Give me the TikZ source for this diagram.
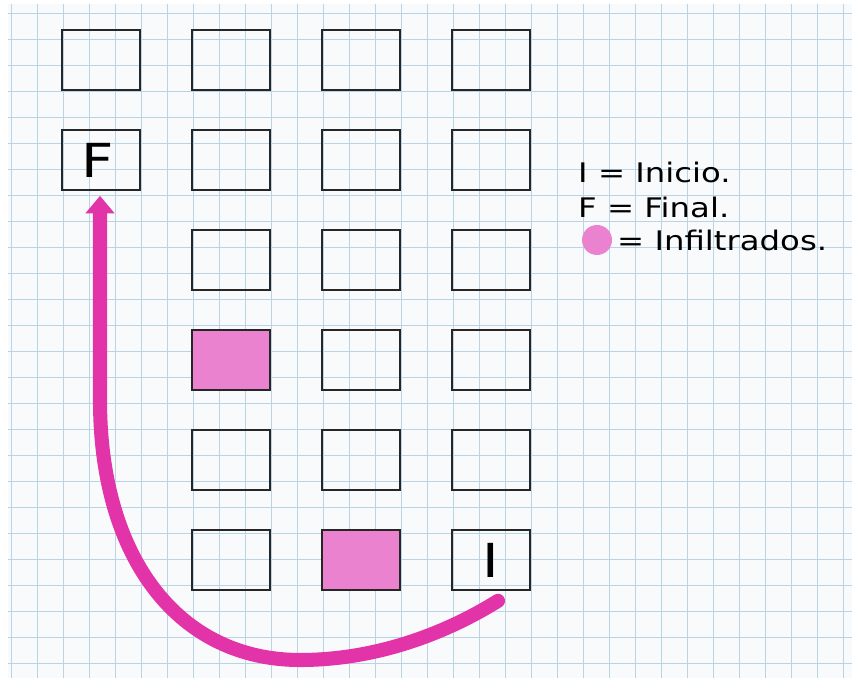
\documentclass[tikz,border=0pt]{standalone}
\usepackage{fontspec}
\newfontfamily\handfont[FakeStretch=1.2]{DejaVu Sans}
\usetikzlibrary{arrows.meta,calc,positioning}
\definecolor{gridblue}{RGB}{186,212,230}
\definecolor{paper}{RGB}{249,250,251}
\definecolor{pinkfill}{RGB}{234,130,208}
\definecolor{pinkline}{RGB}{226,52,168}

\begin{document}
\begin{tikzpicture}[x=0.03cm, y=-0.03cm,
cell/.style={rectangle, draw=black!85, line width=1.4pt, minimum width=2.34cm, minimum height=1.8cm, inner sep=0pt},
infil/.style={cell, fill=pinkfill},
letter/.style={font=\handfont\fontsize{40}{40}\selectfont},
legend/.style={anchor=west, inner sep=0pt, font=\handfont\fontsize{23}{25}\selectfont},
route/.style={-{Triangle[width=24pt,length=15pt]}, line width=12pt, draw=pinkline, line cap=round}
]
\useasboundingbox (0,0) rectangle (858,682);
\fill[paper] (8,4) rectangle (852,678);
% cuadricula
\foreach \gx in {11,37,...,843}
  \draw[gridblue, line width=0.6pt] (\gx,4) -- (\gx,678);
\foreach \gy in {13,39,...,663}
  \draw[gridblue, line width=0.6pt] (8,\gy) -- (852,\gy);
% casillas
\foreach \r in {1,...,6}
  \foreach \c in {2,...,4}
    \node[cell] (b-\r-\c) at ({101+130*(\c-1)},{60+100*(\r-1)}) {};
\node[cell] (b-1-1) at (101,60) {};
\node[cell] (b-2-1) at (101,160) {};
\node[infil] (inf1) at (b-4-2) {};
\node[infil] (inf2) at (b-6-3) {};
\node[letter] (lblF) at ([xshift=-3pt]b-2-1) {F};
\node[letter] (lblI) at (b-6-4) {I};
% recorrido
\coordinate (low) at (300,660);
\coordinate (rise) at (100,400);
\draw[route] ($(b-6-4.south)+(7,10)$) .. controls +(-48,30) and +(80,0) .. (low)
  .. controls +(-120,0) and +(0,160) .. (rise) -- ($(b-2-1.south)+(-1,5)$);
% leyenda
\node[legend] (keyI) at (578,172) {I = Inicio.};
\node[legend] (keyF) at (578,207) {F = Final.};
\node[circle, fill=pinkfill, minimum size=0.9cm, inner sep=0pt] (blob) at (597,240) {};
\node[legend, right=4pt of blob] (keyX) {= Infiltrados.};
\end{tikzpicture}
\end{document}
